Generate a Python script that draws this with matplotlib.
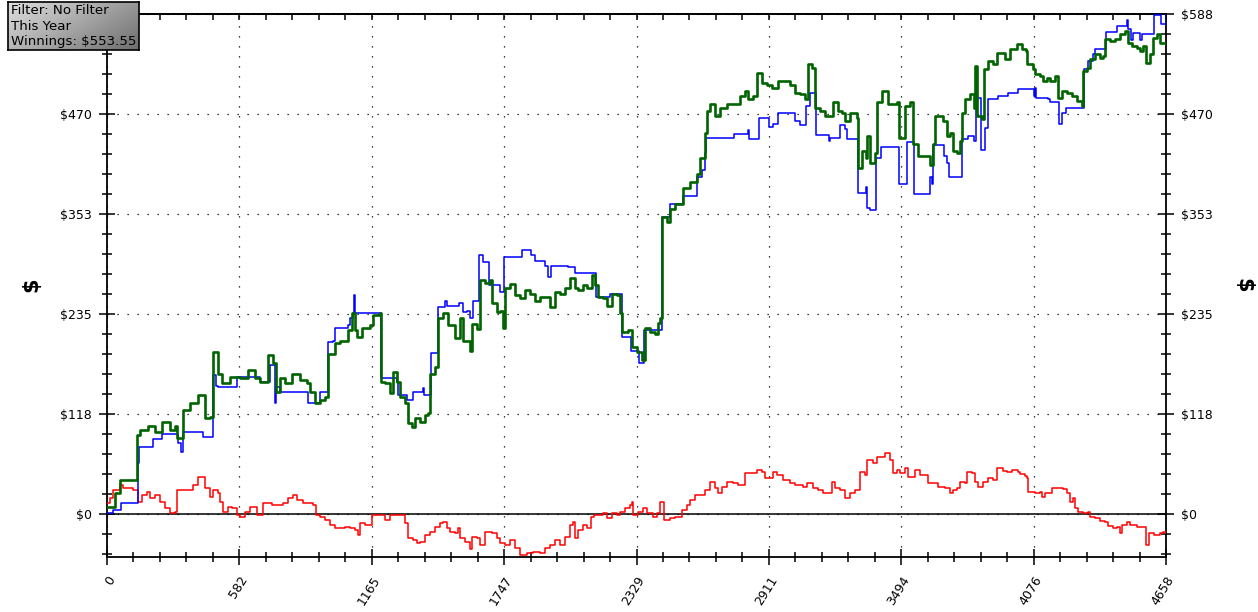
import matplotlib
matplotlib.use("Agg")
import matplotlib.pyplot as plt
import numpy as np
from matplotlib.ticker import MultipleLocator

plt.rcParams['text.parse_math'] = False
plt.rcParams['font.family'] = 'DejaVu Sans'

total_hands = 4658

x_ticks = [0, 582.25, 1164.5, 1746.75, 2329, 2911.25, 3493.5, 4075.75, 4658]
x_labels = ["0", "582", "1165", "1747", "2329", "2911", "3494", "4076", "4658"]
y_ticks = [0, 117.6, 235.2, 352.8, 470.4, 588]
y_labels = ["$0", "$118", "$235", "$353", "$470", "$588"]

info_lines = ["Filter: No Filter", "This Year", "Winnings: $553.55"]

# (hand, $) pairs
green = [(0,8),(35,25),(57,40),(132,42),(132,93),(145,99),(180,104),(211,96),(242,108),(277,99),(299,104),(308,89),(334,122),(365,130),(400,140),(431,113),(453,114),(466,190),(488,165),(506,154),(541,161),(585,160),(620,169),(651,160),(673,155),(708,187),(730,177),(743,143),(761,160),(783,154),(814,165),(849,157),(880,154),(893,143),(915,130),(937,134),(959,137),(972,188),(1003,201),(1025,204),(1060,216),(1078,236),(1091,216),(1100,208),(1122,219),(1157,222),(1170,234),(1201,236),(1205,155),(1223,154),(1245,142),(1258,167),(1276,155),(1289,137),(1311,130),(1324,107),(1342,102),(1355,113),(1377,108),(1399,116),(1412,119),(1421,165),(1443,173),(1456,231),(1478,236),(1500,222),(1517,222),(1531,207),(1553,230),(1566,204),(1597,192),(1605,224),(1627,218),(1641,275),(1663,272),(1685,275),(1693,248),(1715,237),(1729,239),(1742,219),(1751,266),(1773,271),(1795,257),(1817,254),(1839,263),(1861,259),(1883,251),(1905,255),(1935,255),(1949,243),(1971,261),(1993,259),(2015,266),(2037,278),(2059,266),(2072,263),(2094,269),(2111,266),(2133,281),(2146,269),(2160,255),(2182,254),(2199,245),(2221,259),(2243,257),(2256,236),(2265,214),(2292,216),(2309,196),(2331,190),(2353,181),(2366,219),(2388,214),(2410,212),(2424,225),(2432,230),(2441,349),(2463,343),(2476,359),(2498,365),(2520,365),(2534,383),(2564,390),(2595,400),(2608,419),(2630,448),(2639,474),(2652,482),(2674,468),(2696,477),(2727,482),(2762,482),(2784,492),(2806,498),(2819,488),(2841,492),(2859,519),(2881,507),(2903,504),(2925,501),(2951,509),(2982,509),(3004,504),(3026,495),(3048,494),(3070,488),(3083,529),(3101,525),(3114,477),(3136,474),(3158,468),(3180,468),(3193,484),(3215,474),(3233,472),(3246,462),(3268,471),(3299,466),(3303,407),(3321,427),(3338,419),(3343,445),(3356,413),(3378,424),(3387,484),(3409,498),(3435,482),(3457,482),(3475,484),(3484,442),(3510,480),(3532,484),(3545,435),(3567,421),(3598,421),(3620,410),(3633,435),(3642,468),(3664,468),(3677,462),(3695,445),(3708,448),(3721,427),(3739,425),(3752,439),(3761,472),(3774,488),(3796,494),(3813,478),(3818,527),(3827,468),(3849,465),(3857,523),(3875,533),(3897,529),(3915,542),(3937,542),(3950,535),(3972,547),(4003,553),(4025,547),(4042,545),(4047,529),(4073,523),(4082,518),(4104,515),(4117,509),(4135,513),(4148,509),(4170,515),(4183,489),(4201,498),(4223,495),(4245,492),(4267,486),(4289,480),(4293,521),(4311,525),(4324,535),(4346,541),(4368,536),(4381,539),(4390,559),(4412,556),(4434,559),(4456,565),(4478,568),(4491,554),(4508,550),(4530,548),(4544,545),(4557,550),(4570,530),(4588,541),(4601,560),(4618,565),(4632,554),(4658,554)]

blue = [(0,1),(26,5),(62,13),(136,60),(141,79),(202,88),(242,94),(312,83),(325,73),(334,96),(422,90),(466,163),(479,151),(488,149),(572,161),(673,155),(717,175),(739,131),(743,149),(761,143),(884,131),(937,143),(972,202),(994,204),(1003,219),(1060,222),(1069,231),(1082,236),(1086,257),(1091,236),(1205,160),(1276,155),(1280,140),(1320,134),(1346,143),(1390,148),(1394,140),(1425,189),(1456,243),(1487,250),(1495,245),(1548,248),(1566,237),(1583,239),(1597,231),(1610,251),(1636,304),(1654,296),(1680,269),(1729,261),(1746,302),(1825,310),(1865,304),(1883,298),(1927,292),(1940,279),(1953,292),(2028,290),(2059,283),(2151,255),(2212,259),(2265,208),(2305,192),(2340,177),(2362,216),(2441,349),(2476,365),(2534,374),(2595,396),(2617,404),(2630,424),(2635,442),(2758,447),(2819,451),(2824,441),(2868,466),(2912,455),(2929,459),(2951,471),(3026,462),(3048,458),(3074,480),(3092,495),(3118,446),(3176,439),(3180,442),(3224,458),(3246,453),(3255,441),(3303,378),(3338,384),(3343,360),(3356,357),(3382,419),(3404,431),(3484,388),(3519,437),(3550,376),(3620,396),(3629,388),(3633,434),(3681,421),(3695,413),(3704,396),(3761,441),(3787,444),(3813,439),(3822,489),(3844,428),(3862,454),(3875,488),(3919,492),(3963,495),(4007,500),(4077,492),(4082,501),(4086,489),(4139,488),(4148,484),(4187,459),(4201,471),(4218,477),(4249,478),(4297,523),(4315,533),(4337,541),(4346,547),(4394,567),(4442,574),(4487,581),(4491,570),(4504,557),(4513,566),(4544,557),(4552,565),(4605,587),(4636,576),(4658,587)]

red = [(0,13),(13,19),(26,28),(57,34),(70,31),(114,28),(136,14),(154,22),(176,26),(189,19),(211,22),(233,14),(255,7),(277,1),(299,2),(308,28),(378,34),(400,43),(431,31),(453,20),(466,28),(488,25),(497,14),(510,2),(532,8),(550,7),(572,-1),(585,-4),(607,2),(629,8),(660,-1),(686,13),(726,11),(774,13),(796,19),(818,22),(836,16),(862,13),(906,11),(919,-1),(937,-4),(959,-7),(981,-13),(1003,-16),(1047,-15),(1069,-16),(1091,-19),(1104,-25),(1113,-11),(1135,-13),(1166,-1),(1223,-7),(1245,-1),(1311,-11),(1324,-28),(1346,-31),(1364,-34),(1377,-33),(1399,-25),(1421,-21),(1443,-15),(1465,-11),(1478,-9),(1495,-16),(1509,-21),(1531,-22),(1544,-16),(1553,-28),(1575,-33),(1597,-41),(1605,-27),(1627,-28),(1641,-36),(1663,-21),(1693,-22),(1715,-28),(1729,-34),(1751,-36),(1773,-31),(1795,-40),(1817,-48),(1847,-46),(1874,-45),(1905,-46),(1927,-40),(1949,-36),(1971,-31),(1993,-36),(2015,-27),(2037,-13),(2050,-9),(2059,-28),(2072,-19),(2094,-13),(2111,-16),(2129,-4),(2142,-1),(2182,1),(2199,-5),(2221,1),(2243,-1),(2256,2),(2278,7),(2300,11),(2309,14),(2314,-1),(2336,2),(2358,7),(2375,1),(2402,-4),(2419,1),(2432,14),(2450,-7),(2476,-5),(2498,-4),(2529,5),(2551,11),(2564,16),(2586,22),(2630,28),(2652,38),(2674,31),(2687,25),(2705,32),(2727,38),(2753,36),(2775,34),(2806,48),(2859,52),(2881,49),(2894,42),(2929,49),(2947,46),(2973,40),(3004,36),(3026,34),(3061,32),(3079,36),(3105,31),(3127,28),(3149,25),(3189,38),(3202,31),(3224,28),(3246,19),(3268,25),(3290,28),(3312,49),(3334,46),(3343,63),(3369,60),(3387,67),(3422,72),(3444,63),(3457,48),(3475,52),(3488,48),(3510,54),(3523,43),(3554,52),(3576,46),(3611,36),(3655,32),(3686,31),(3708,25),(3721,28),(3739,31),(3752,38),(3774,36),(3783,49),(3805,48),(3818,38),(3831,32),(3853,38),(3875,42),(3897,40),(3915,54),(3941,50),(3959,49),(3981,52),(4007,49),(4016,47),(4038,45),(4047,42),(4051,26),(4082,25),(4104,26),(4113,20),(4126,25),(4157,31),(4205,29),(4223,25),(4236,14),(4249,19),(4258,7),(4271,2),(4293,1),(4315,2),(4324,-4),(4346,-5),(4368,-8),(4390,-9),(4403,-14),(4425,-16),(4443,-15),(4456,-22),(4465,-13),(4487,-9),(4500,-13),(4530,-15),(4570,-36),(4583,-22),(4605,-25),(4632,-22),(4645,-21),(4658,-22)]

W, H = 1258, 612
fig = plt.figure(figsize=(W / 100, H / 100), dpi=100)
ax = fig.add_axes([107 / W, 1 - 557 / H, 1059 / W, 543 / H])

for series, color, lw in [(red, '#ff0000', 1.1), (blue, '#0000ff', 1.1), (green, '#006400', 1.9)]:
    hx, hy = zip(*series)
    ax.plot(hx, hy, drawstyle='steps-post', color=color, lw=lw, zorder=3)

ax.axhline(0, color='black', lw=1.1, zorder=2)

ax.set_xlim(0, total_hands)
ax.set_ylim(-50.6, 588)

ax.set_xticks(x_ticks)
ax.set_xticklabels(x_labels, rotation=58, ha='right', va='top', rotation_mode='anchor')
ax.xaxis.set_minor_locator(MultipleLocator(total_hands / 40))
ax.set_yticks(y_ticks)
ax.set_yticklabels(y_labels)
ax.yaxis.set_minor_locator(MultipleLocator(588 / 25))

ax.tick_params(axis='both', which='major', direction='inout', length=12, width=1.1,
               labelsize=9, colors='black')
ax.tick_params(axis='both', which='minor', direction='inout', length=7, width=1.1)
ax.tick_params(axis='y', which='both', left=True, right=True, labelleft=True, labelright=True, pad=5)
ax.tick_params(axis='x', which='major', pad=6)

# the info box covers the top-left label in the original
ax.yaxis.get_major_ticks()[-1].label1.set_visible(False)

sec = ax.secondary_xaxis('top')
sec.set_xticks(x_ticks)
sec.set_xticklabels([])
sec.xaxis.set_minor_locator(MultipleLocator(total_hands / 40))
sec.tick_params(which='both', direction='in', length=4, width=1.1)
sec.spines['top'].set_linewidth(1.3)

for s in ax.spines.values():
    s.set_linewidth(1.3)

ax.grid(which='major', color='black', linestyle=(0, (1, 7)), lw=0.9)

fig.text(31 / W, 1 - 285 / H, '$', rotation=90, ha='center', va='center',
         fontsize=15, fontweight='bold')
fig.text(1243 / W, 1 - 285 / H, '$', rotation=270, ha='center', va='center',
         fontsize=15, fontweight='bold')

# info box with grey gradient
box = fig.add_axes([8 / W, 1 - 50 / H, 131 / W, 48 / H], zorder=10)
u = np.linspace(0, 1, 131)[None, :]
v = np.linspace(0, 1, 48)[:, None]
shade = 0.87 - 0.28 * u - 0.16 * v
box.imshow(shade, cmap='gray', vmin=0, vmax=1, aspect='auto', extent=[0, 1, 0, 1])
box.set_xticks([])
box.set_yticks([])
for s in box.spines.values():
    s.set_linewidth(1.2)
for i, line in enumerate(info_lines):
    box.text(0.02, 1 - (i * 2 + 1) / 6, line, ha='left', va='center', fontsize=9.6,
             color='black', transform=box.transAxes)

fig.savefig('out.png', dpi=100)
